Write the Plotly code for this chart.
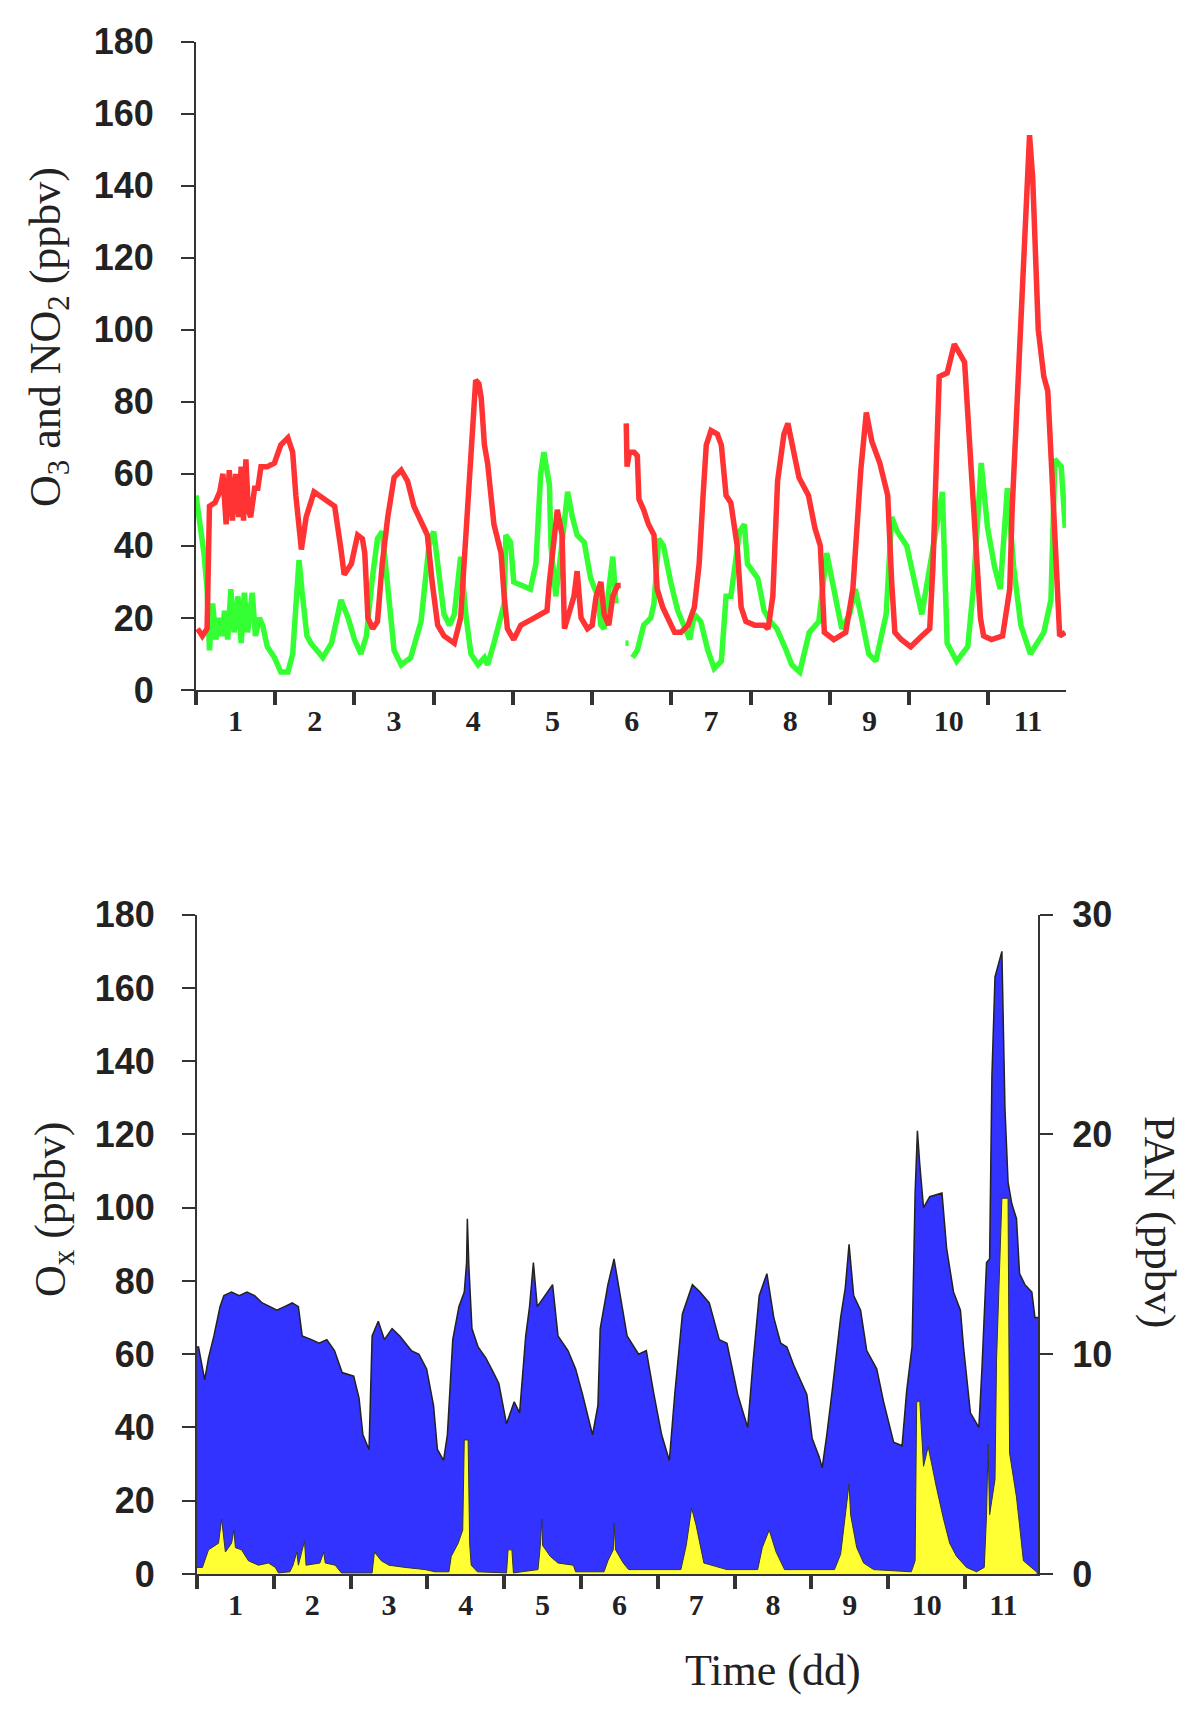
import plotly.graph_objects as go

# ---------------- data (time in days from start) ----------------
o3_t = [0.02,0.08,0.14,0.17,0.24,0.30,0.34,0.38,0.42,0.46,0.50,0.54,0.57,0.60,0.63,0.66,0.69,0.74,0.78,0.82,0.90,0.99,1.07,1.16,1.22,1.26,1.33,1.39,1.49,1.62,1.75,1.83,1.87,1.96,2.04,2.10,2.13,2.17,2.23,2.29,2.35,2.42,2.50,2.59,2.67,2.75,2.84,2.92,2.98,3.05,3.13,3.26,3.34,3.41,3.47,3.53,3.57,3.60,3.64,3.68,3.76,3.85,3.89,3.93,4.01,4.10,4.27,4.43,4.46,4.50,4.56,4.62,4.65,4.69,4.77,4.81,4.86,4.94,5.00,5.05,5.11,5.15,5.21,5.26,5.32,5.36,5.40,
        5.43,5.44,5.47,5.53,5.57,5.59,5.65,5.71,5.78,5.82,5.89,5.95,6.04,6.12,6.21,6.29,6.35,6.40,6.44,6.50,6.58,6.63,6.69,6.75,6.83,6.88,6.94,7.05,7.17,7.22,7.28,7.34,7.42,7.47,7.54,7.61,7.73,7.81,7.88,7.93,8.05,8.20,8.29,8.39,8.46,8.53,8.63,8.73,8.78,8.82,8.90,9.02,9.16,9.26,9.30,9.35,9.38,9.48,9.57,9.70,9.77,9.84,9.90,9.94,10.04,10.18,10.27,10.30,10.35,10.42,10.47,10.52,10.56,10.60,10.63,10.70,10.75,10.80,10.86,10.90,10.97]
o3_v = [17,15,17,51,52,55,60,46,61,47,60,48,62,47,64,50,48,56,56,62,62,63,68,70,66,54,39,48,55,53,51,39,32,35,43,42,38,20,17,19,35,48,59,61,58,51,47,43,30,18,15,13,20,44,65,86,85,81,68,63,46,38,26,17,14,18,20,22,30,39,50,43,17,20,26,33,20,17,18,26,30,21,18,26,29,29,None,
        74,62,66,66,65,53,50,46,43,28,23,20,16,16,18,23,35,54,68,72,71,68,54,52,40,23,19,18,18,17,26,58,71,74,66,59,54,45,40,16,14,16,28,61,77,69,63,54,30,16,14,12,15,17,34,70,87,88,96,91,67,41,20,15,14,15,28,50,74,109,137,154,142,117,100,87,83,61,35,15,16]

no2_t = [0.00,0.05,0.10,0.14,0.17,0.21,0.25,0.29,0.33,0.36,0.40,0.44,0.48,0.53,0.57,0.61,0.65,0.71,0.75,0.80,0.84,0.90,0.99,1.07,1.16,1.22,1.26,1.30,1.34,1.40,1.45,1.60,1.71,1.83,1.92,2.00,2.08,2.15,2.22,2.29,2.35,2.42,2.50,2.59,2.71,2.84,2.94,3.00,3.07,3.13,3.20,3.26,3.34,3.41,3.47,3.56,3.64,3.68,3.76,3.85,3.89,3.91,3.97,4.01,4.10,4.22,4.29,4.35,4.39,4.46,4.48,4.54,4.60,4.69,4.75,4.81,4.90,4.98,5.07,5.11,5.15,5.19,5.26,5.30,5.36,
         5.42,5.46,5.48,
         5.51,5.57,5.65,5.74,5.78,5.84,5.90,5.99,6.08,6.16,6.23,6.29,6.37,6.46,6.54,6.63,6.69,6.75,6.86,6.92,6.96,7.09,7.17,7.25,7.33,7.43,7.52,7.62,7.74,7.86,7.96,8.05,8.15,8.25,8.32,8.39,8.49,8.58,8.71,8.78,8.85,8.97,9.07,9.16,9.26,9.36,9.42,9.48,9.60,9.74,9.81,9.91,9.99,10.08,10.15,10.24,10.32,10.41,10.53,10.70,10.79,10.84,10.92,10.97]
no2_v = [54,46,38,28,11,24,14,20,15,22,14,28,16,26,13,27,16,27,15,20,18,12,9,5,5,10,21,36,27,15,13,9,13,25,20,14,10,15,30,42,44,30,11,7,9,19,40,44,33,21,18,21,37,20,10,7,9,7,13,21,24,43,41,30,29,28,35,60,66,57,40,26,37,55,48,43,41,31,26,18,17,24,37,24,None,
         13,13,None,
         9,11,18,20,24,42,40,30,22,18,14,21,19,11,6,8,26,26,44,46,35,31,22,19,17,12,7,5,16,19,38,28,17,21,28,21,10,8,21,48,44,40,29,21,34,48,55,13,8,12,28,63,45,34,28,56,34,18,10,16,25,64,62,45]

ox_t = [0.00,0.02,0.10,0.15,0.22,0.30,0.35,0.45,0.55,0.65,0.75,0.85,0.95,1.04,1.14,1.24,1.32,1.37,1.49,1.59,1.69,1.79,1.89,2.04,2.11,2.16,2.24,2.28,2.36,2.44,2.54,2.64,2.79,2.89,2.99,3.08,3.13,3.21,3.26,3.33,3.41,3.48,3.51,3.52,3.54,3.58,3.66,3.76,3.86,3.93,4.03,4.13,4.20,4.28,4.33,4.38,4.43,4.53,4.63,4.70,4.83,4.93,5.02,5.15,5.22,5.25,5.35,5.43,5.50,5.60,5.75,5.85,5.95,6.05,6.15,6.22,6.32,6.45,6.55,6.67,6.80,6.90,7.04,7.17,7.24,7.32,7.42,7.51,7.60,7.68,7.77,7.86,7.94,8.01,8.10,8.14,8.20,8.27,8.38,8.44,8.49,8.55,8.64,8.72,8.85,8.94,9.07,9.18,9.24,9.31,9.35,9.38,9.41,9.46,9.54,9.70,9.76,9.85,9.94,9.98,10.07,10.18,10.22,10.28,10.32,10.35,10.39,10.48,10.52,10.56,10.61,10.67,10.71,10.78,10.87,10.91,10.95]
ox_v = [62,62,53,59,65,73,76,77,76,77,76,74,73,72,73,74,73,65,64,63,64,61,55,54,48,38,34,65,69,64,67,65,61,60,56,46,34,31,38,64,73,77,85,97,84,67,62,59,55,52,41,47,44,65,73,85,73,76,79,65,61,56,49,38,46,67,79,86,77,65,60,61,49,38,31,49,71,79,77,74,64,63,49,40,58,76,82,70,63,62,57,53,49,37,32,29,38,50,70,78,90,76,72,61,56,47,36,35,50,62,104,121,112,100,103,104,89,77,72,62,44,40,56,85,86,136,163,170,127,107,101,97,82,79,77,70,70]

pan_t = [0.00,0.07,0.15,0.28,0.32,0.37,0.45,0.48,0.50,0.58,0.67,0.80,0.93,1.02,1.06,1.21,1.25,1.30,1.32,1.40,1.42,1.60,1.65,1.67,1.80,1.88,2.28,2.31,2.40,2.50,2.71,2.97,3.10,3.28,3.31,3.40,3.46,3.48,3.53,3.55,3.57,3.65,4.03,4.05,4.10,4.12,4.44,4.47,4.49,4.50,4.60,4.70,4.90,4.93,5.30,5.35,5.42,5.43,5.45,5.55,5.62,6.30,6.37,6.44,6.50,6.55,6.60,6.90,7.30,7.36,7.45,7.54,7.65,8.30,8.38,8.49,8.51,8.59,8.68,8.81,9.30,9.35,9.37,9.41,9.46,9.52,9.56,9.63,9.72,9.80,9.89,10.02,10.15,10.25,10.28,10.30,10.32,10.39,10.41,10.48,10.56,10.57,10.58,10.67,10.76,10.93]
pan_v = [0.3,0.3,1.1,1.4,2.5,1.0,1.4,2.0,1.2,1.1,0.6,0.4,0.5,0.3,0.05,0.1,0.4,1.0,0.4,1.5,0.4,0.5,1.0,0.5,0.4,0.05,0.05,1.0,0.6,0.4,0.3,0.2,0.1,0.1,0.8,1.4,2.0,6.1,6.1,1.4,0.4,0.1,0.05,1.1,1.1,0.05,0.2,1.3,2.5,1.3,0.8,0.5,0.4,0.1,0.1,0.6,1.1,2.3,1.1,0.5,0.2,0.2,1.3,3.0,2.2,1.3,0.5,0.2,0.2,1.2,2.0,1.0,0.2,0.2,0.9,4.1,2.7,1.2,0.5,0.2,0.1,0.6,7.8,7.9,4.9,5.8,5.1,3.9,2.5,1.4,0.8,0.3,0.1,0.3,2.7,5.9,2.7,4.3,9.7,17.1,17.1,13.0,5.5,3.5,0.6,0.1]

day_ticks = list(range(0, 11))
day_label_pos = [d + 0.5 for d in range(11)]
day_labels = [str(d + 1) for d in range(11)]
left_ticks = list(range(0, 181, 20))
right_ticks = [0, 10, 20, 30]

# ---------------- figure ----------------
W, H = 1200, 1717
fig = go.Figure()

fig.add_trace(go.Scatter(x=no2_t, y=no2_v, mode="lines", line=dict(color="#33FF33", width=5.5),
                         xaxis="x", yaxis="y", showlegend=False, connectgaps=False))
fig.add_trace(go.Scatter(x=o3_t, y=o3_v, mode="lines", line=dict(color="#FF3333", width=5.5),
                         xaxis="x", yaxis="y", showlegend=False, connectgaps=False))
fig.add_trace(go.Scatter(x=ox_t, y=ox_v, mode="lines", fill="tozeroy", fillcolor="#3333FF",
                         line=dict(color="#222222", width=1.5), xaxis="x2", yaxis="y2", showlegend=False))
fig.add_trace(go.Scatter(x=pan_t, y=pan_v, mode="lines", fill="tozeroy", fillcolor="#FFFF33",
                         line=dict(color="#333333", width=1), xaxis="x2", yaxis="y3", showlegend=False))

ytick_font = dict(family="Liberation Sans", size=36, color="#222222", weight="bold")
xtick_font = dict(family="Liberation Serif", size=30, color="#222222", weight="bold")
title_font = dict(family="Liberation Serif", size=44, color="#222222")

top_dom_x = [196 / W, 1066 / W]
top_dom_y = [1 - 690 / H, 1 - 41.5 / H]
bot_dom_x = [197 / W, 1038 / W]
bot_dom_y = [1 - 1574 / H, 1 - 914.7 / H]

common = dict(showgrid=False, zeroline=False, showline=True, linecolor="#333333", linewidth=2,
              automargin=False)
minor_ticks = dict(tickvals=day_ticks, ticks="outside", ticklen=13, tickwidth=4,
                   tickcolor="#333333", showgrid=False)

fig.update_layout(
    template="none",
    width=W, height=H, margin=dict(l=0, r=0, t=0, b=0, pad=0), autosize=False,
    paper_bgcolor="white", plot_bgcolor="rgba(0,0,0,0)", showlegend=False,
    xaxis=dict(**common, domain=top_dom_x, range=[0, 10.98], anchor="y",
               tickmode="array", tickvals=day_label_pos, ticktext=day_labels, ticks="",
               tickfont=xtick_font, ticklabelstandoff=3, minor=minor_ticks),
    yaxis=dict(**common, domain=top_dom_y, range=[0, 180], anchor="x", ticks="outside",
               tickcolor="#333333", tickmode="array",
               tickvals=left_ticks, ticklen=13, tickwidth=2, tickfont=ytick_font, ticklabelstandoff=20),
    xaxis2=dict(**common, domain=bot_dom_x, range=[0, 10.95], anchor="y2",
                tickmode="array", tickvals=day_label_pos, ticktext=day_labels, ticks="",
                tickfont=xtick_font, ticklabelstandoff=3, minor=minor_ticks),
    yaxis2=dict(**common, domain=bot_dom_y, range=[0, 180], anchor="x2", ticks="outside",
                tickcolor="#333333", tickmode="array",
                tickvals=left_ticks, ticklen=13, tickwidth=2, tickfont=ytick_font, ticklabelstandoff=20),
    yaxis3=dict(**common, domain=bot_dom_y, range=[0, 30], anchor="x2", overlaying="y2", side="right",
                ticks="outside", tickcolor="#333333", tickmode="array",
                tickvals=right_ticks, ticklen=13, tickwidth=2, tickfont=ytick_font, ticklabelstandoff=12),
)

fig.add_annotation(text="O<sub>3</sub> and NO<sub>2</sub> (ppbv)", x=48 / W, y=1 - 337 / H,
                   xref="paper", yref="paper", textangle=-90, showarrow=False,
                   xanchor="center", yanchor="middle", font=title_font)
fig.add_annotation(text="O<sub>x</sub> (ppbv)", x=53 / W, y=1 - 1209 / H,
                   xref="paper", yref="paper", textangle=-90, showarrow=False,
                   xanchor="center", yanchor="middle", font=title_font)
fig.add_annotation(text="PAN (ppbv)", x=1160 / W, y=1 - 1222 / H,
                   xref="paper", yref="paper", textangle=90, showarrow=False,
                   xanchor="center", yanchor="middle", font=title_font)
fig.add_annotation(text="Time (dd)", x=773 / W, y=1 - 1670 / H,
                   xref="paper", yref="paper", showarrow=False,
                   xanchor="center", yanchor="middle", font=title_font)

fig.write_html("out.html", config={"displayModeBar": False, "staticPlot": True},
               post_script="document.body.style.margin='0px';")
